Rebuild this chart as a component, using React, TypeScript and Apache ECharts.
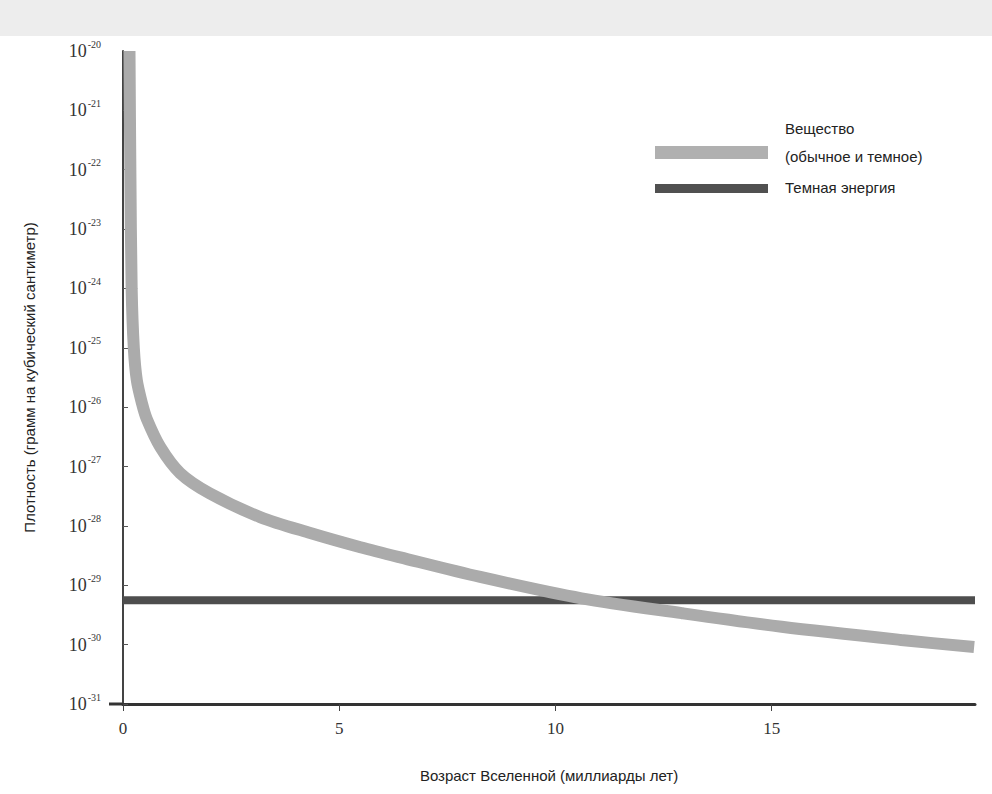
import React, { useEffect, useRef } from "react";
import * as echarts from "echarts";

// Age of the Universe (billions of years)
const matterAge = [0.15, 0.17, 0.2, 0.25, 0.32, 0.44, 0.55, 0.86, 1.32, 2.0, 3.17, 4.33, 5.49, 6.41, 8.26, 10.6, 12.92, 15.23, 17.99, 19.68];
// Density of matter (g / cm^3)
const matterDensity = [1e-20, 1e-22, 1e-24, 1e-25, 2.82e-26, 1.15e-26, 6.31e-27, 2.14e-27, 7.76e-28, 3.55e-28, 1.41e-28, 7.59e-29, 4.37e-29, 2.95e-29, 1.38e-29, 6.03e-30, 3.39e-30, 2.0e-30, 1.2e-30, 9.1e-31];
const darkAge = [0, 19.7];
const darkDensity = [5.6e-30, 5.6e-30];

const xTicks = [0, 5, 10, 15];
const yTicks = [1e-31, 1e-30, 1e-29, 1e-28, 1e-27, 1e-26, 1e-25, 1e-24, 1e-23, 1e-22, 1e-21, 1e-20];

const matterName = "Вещество\n(обычное и темное)";
const darkName = "Темная энергия";
const xName = "Возраст Вселенной (миллиарды лет)";
const yName = "Плотность (грамм на кубический сантиметр)";

const SANS = "'Liberation Sans', Arial, sans-serif";
const SERIF = "'Liberation Serif', 'Times New Roman', serif";

export default function App() {
  const ref = useRef<HTMLDivElement>(null);
  useEffect(() => {
    if (!ref.current) return;
    const chart = echarts.init(ref.current, null, { renderer: "svg" });
    chart.setOption({
      animation: false,
      backgroundColor: "#ffffff",
      grid: { left: 123, right: 17, top: 51, bottom: 90, containLabel: false },
      xAxis: {
        type: "value",
        min: 0,
        max: 19.7,
        name: xName,
        nameLocation: "middle",
        nameGap: 64,
        nameTextStyle: { fontFamily: SANS, fontSize: 15, color: "#222" },
        axisLine: { show: true, onZero: false, lineStyle: { color: "#333", width: 3 } },
        axisTick: { show: true, customValues: xTicks, length: 7, lineStyle: { color: "#444", width: 1 } },
        axisLabel: {
          customValues: xTicks,
          margin: 16,
          fontFamily: SERIF,
          fontSize: 17,
          color: "#333",
        },
        splitLine: { show: false },
      },
      yAxis: {
        type: "log",
        logBase: 10,
        min: 1e-31,
        max: 1e-20,
        name: yName,
        nameLocation: "middle",
        nameRotate: 90,
        nameGap: 86,
        nameTextStyle: { fontFamily: SANS, fontSize: 15, color: "#222" },
        axisLine: { show: true, onZero: false, lineStyle: { color: "#444", width: 2 } },
        axisTick: { show: true, inside: true, length: 5, customValues: yTicks, lineStyle: { color: "#555", width: 1 } },
        axisLabel: {
          customValues: yTicks,
          margin: 22,
          formatter: (v: number) => `{a|10}{b|${Math.round(Math.log10(v))}}`,
          rich: {
            a: { fontFamily: SERIF, fontSize: 18, color: "#333", lineHeight: 24 },
            b: { fontFamily: SERIF, fontSize: 10, color: "#333", lineHeight: 12, verticalAlign: "top", padding: [0, 0, 0, 1] },
          },
        },
        splitLine: { show: false },
      },
      series: [
        {
          name: matterName,
          type: "line",
          data: matterAge.map((a, i) => [a, matterDensity[i]]),
          smooth: 0.3,
          showSymbol: false,
          lineStyle: { color: "#ababab", width: 12, cap: "butt" },
          z: 3,
        },
        {
          name: darkName,
          type: "line",
          data: darkAge.map((a, i) => [a, darkDensity[i]]),
          showSymbol: false,
          lineStyle: { color: "#4e4e4e", width: 8, cap: "butt" },
          z: 2,
        },
      ],
      graphic: [
        { type: "rect", left: 0, top: 0, shape: { width: 992, height: 36 }, style: { fill: "#ededed" }, z: -1, silent: true },
        { type: "line", shape: { x1: 109, y1: 704, x2: 123, y2: 704 }, style: { stroke: "#333", lineWidth: 3 } },
        { type: "rect", shape: { x: 655, y: 146, width: 113, height: 13 }, style: { fill: "#b0b0b0" } },
        { type: "rect", shape: { x: 655, y: 184, width: 113, height: 9 }, style: { fill: "#505050" } },
        {
          type: "text",
          x: 785,
          y: 114,
          style: { text: matterName, font: `15px ${SANS}`, fill: "#222", lineHeight: 28 },
        },
        {
          type: "text",
          x: 785,
          y: 180,
          style: { text: darkName, font: `15px ${SANS}`, fill: "#222" },
        },
      ],
    });
    return () => chart.dispose();
  }, []);
  return (
    <div
      ref={ref}
      style={{ position: "fixed", left: 0, top: 0, width: 992, height: 794 }}
    />
  );
}
